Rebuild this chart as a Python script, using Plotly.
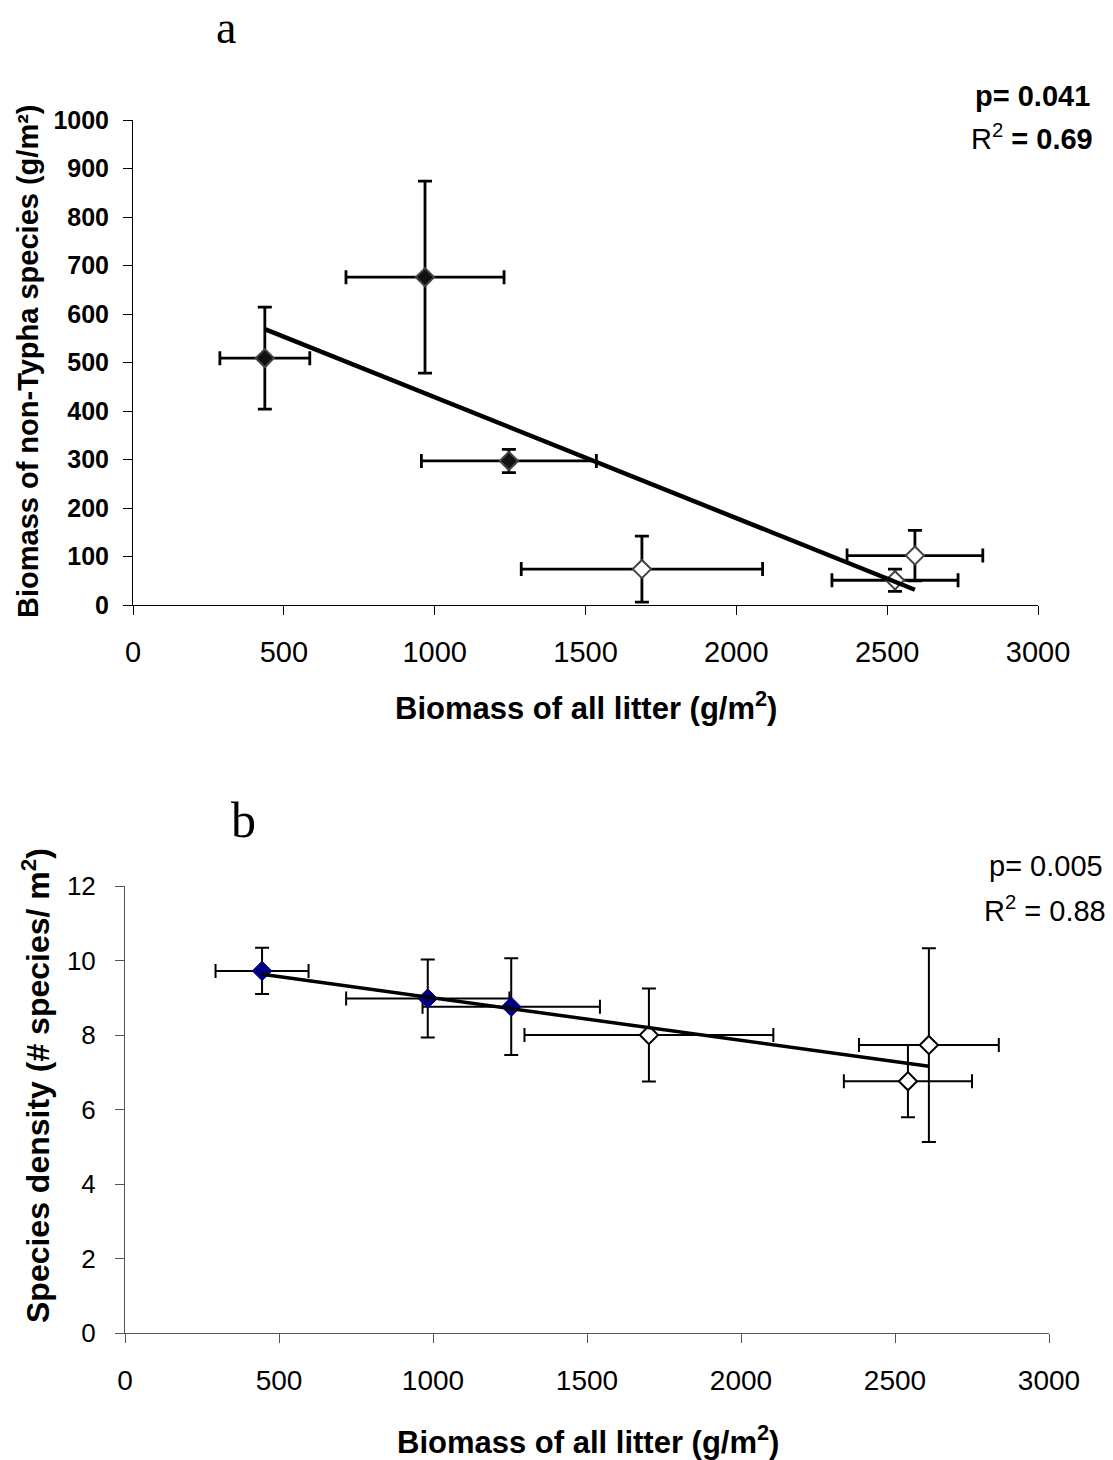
import numpy as np
import plotly.graph_objects as go

W, H = 1113, 1460

# ---- Panel a data ----
a_x_filled = [437, 968, 1246]
a_y_filled = [509, 676, 297]
a_xerr_filled = [149, 262, 290]
a_yerr_filled = [105, 198, 24]

a_x_open = [1687, 2592, 2526]
a_y_open = [74, 102, 51]
a_xerr_open = [400, 225, 209]
a_yerr_open = [68, 52, 23]

# ---- Panel b data ----
b_x_filled = [445, 983, 1254]
b_y_filled = [9.72, 8.98, 8.76]
b_xerr_filled = [151, 265, 288]
b_yerr_filled = [0.62, 1.05, 1.30]

b_x_open = [1701, 2610, 2542]
b_y_open = [8.0, 7.73, 6.76]
b_xerr_open = [404, 227, 208]
b_yerr_open = [1.25, 2.6, 0.97]

x_ticks = [0, 500, 1000, 1500, 2000, 2500, 3000]
a_y_ticks = [0, 100, 200, 300, 400, 500, 600, 700, 800, 900, 1000]
b_y_ticks = [0, 2, 4, 6, 8, 10, 12]

def px(x):
    return x / W

def py(y):
    return 1 - y / H

FONT = "Liberation Sans, Arial, sans-serif"
SERIF = "Liberation Serif, Times New Roman, serif"

fig = go.Figure()

# Panel a points
fig.add_trace(go.Scatter(
    x=a_x_filled, y=a_y_filled, mode="markers", xaxis="x", yaxis="y",
    marker=dict(symbol="diamond", size=14, color="#111111", line=dict(color="#444444", width=2)),
    error_x=dict(type="data", array=a_xerr_filled, color="black", thickness=2.8, width=7),
    error_y=dict(type="data", array=a_yerr_filled, color="black", thickness=2.8, width=7),
    showlegend=False))
fig.add_trace(go.Scatter(
    x=a_x_open, y=a_y_open, mode="markers", xaxis="x", yaxis="y",
    marker=dict(symbol="diamond", size=14, color="white", line=dict(color="#444444", width=2)),
    error_x=dict(type="data", array=a_xerr_open, color="black", thickness=2.8, width=7),
    error_y=dict(type="data", array=a_yerr_open, color="black", thickness=2.8, width=7),
    showlegend=False))

# Panel a trend line (least squares)
ax_all = np.array(a_x_filled + a_x_open, dtype=float)
ay_all = np.array(a_y_filled + a_y_open, dtype=float)
sa, ia = np.polyfit(ax_all, ay_all, 1)
ta_x = [ax_all.min(), ax_all.max()]
fig.add_trace(go.Scatter(
    x=ta_x, y=[sa * v + ia for v in ta_x], mode="lines", xaxis="x", yaxis="y",
    line=dict(color="black", width=4.5), showlegend=False))

# Panel b points
fig.add_trace(go.Scatter(
    x=b_x_filled, y=b_y_filled, mode="markers", xaxis="x2", yaxis="y2",
    marker=dict(symbol="diamond", size=15, color="#000080", line=dict(color="#000080", width=1)),
    error_x=dict(type="data", array=b_xerr_filled, color="black", thickness=2, width=7),
    error_y=dict(type="data", array=b_yerr_filled, color="black", thickness=2, width=7),
    showlegend=False))
fig.add_trace(go.Scatter(
    x=b_x_open, y=b_y_open, mode="markers", xaxis="x2", yaxis="y2",
    marker=dict(symbol="diamond", size=14, color="white", line=dict(color="black", width=2)),
    error_x=dict(type="data", array=b_xerr_open, color="black", thickness=2, width=7),
    error_y=dict(type="data", array=b_yerr_open, color="black", thickness=2, width=7),
    showlegend=False))

bx_all = np.array(b_x_filled + b_x_open, dtype=float)
by_all = np.array(b_y_filled + b_y_open, dtype=float)
sb, ib = np.polyfit(bx_all, by_all, 1)
tb_x = [bx_all.min(), bx_all.max()]
fig.add_trace(go.Scatter(
    x=tb_x, y=[sb * v + ib for v in tb_x], mode="lines", xaxis="x2", yaxis="y2",
    line=dict(color="black", width=3.5), showlegend=False))

axis_common = dict(showgrid=False, zeroline=False, showline=True, linecolor="black",
                   linewidth=1, ticks="outside", tickcolor="black", ticklen=9, tickwidth=1,
                   automargin=False)

fig.update_layout(
    template="none",
    width=W, height=H, margin=dict(l=0, r=0, t=0, b=0, autoexpand=False),
    paper_bgcolor="white", plot_bgcolor="white",
    font=dict(family=FONT, color="black"),
    xaxis=dict(domain=[px(133), px(1038)], range=[0, 3000], tickvals=x_ticks,
               anchor="y", ticklabelstandoff=12,
               tickfont=dict(size=29, family=FONT), **axis_common),
    yaxis=dict(domain=[py(605), py(120)], range=[0, 1000], tickvals=a_y_ticks,
               anchor="x", ticklabelstandoff=9,
               tickfont=dict(size=25, family=FONT, weight="bold"), **axis_common),
    xaxis2=dict(domain=[px(125), px(1049)], range=[0, 3000], tickvals=x_ticks,
                anchor="y2", ticklabelstandoff=13,
                tickfont=dict(size=28, family=FONT), **axis_common),
    yaxis2=dict(domain=[py(1333), py(886)], range=[0, 12], tickvals=b_y_ticks,
                anchor="x2", ticklabelstandoff=14,
                tickfont=dict(size=26, family=FONT), **axis_common),
)
fig.layout.xaxis2.linecolor = "#555555"
fig.layout.yaxis2.linecolor = "#555555"
fig.layout.yaxis2.tickcolor = "#555555"
fig.layout.xaxis2.tickcolor = "#555555"

annots = [
    dict(x=px(226), y=1.0, text="a", yanchor="top", font=dict(family=SERIF, size=46)),
    dict(x=px(243), y=py(820), text="b", font=dict(family=SERIF, size=50)),
    dict(x=px(586), y=py(706), text="<b>Biomass of all litter (g/m<sup>2</sup>)</b>", font=dict(size=31)),
    dict(x=px(588), y=py(1440), text="<b>Biomass of all litter (g/m<sup>2</sup>)</b>", font=dict(size=31)),
    dict(x=px(28), y=py(362), text="<b>Biomass of non-Typha species (g/m²)</b>", textangle=-90, font=dict(size=29)),
    dict(x=px(36), y=py(1086), text="<b>Species density (# species/ m<sup>2</sup>)</b>", textangle=-90, font=dict(size=32)),
    dict(x=px(1092), y=py(96), text="<b>p= 0.041</b>", xanchor="right", font=dict(size=29)),
    dict(x=px(1095), y=py(137), text="R<sup>2</sup> <b>= 0.69</b>", xanchor="right", font=dict(size=29)),
    dict(x=px(1105), y=py(866), text="p= 0.005", xanchor="right", font=dict(size=29)),
    dict(x=px(1108), y=py(909), text="R<sup>2</sup> = 0.88", xanchor="right", font=dict(size=29)),
]
for a in annots:
    a.setdefault("xanchor", "center")
    a.setdefault("yanchor", "middle")
    fig.add_annotation(xref="paper", yref="paper", showarrow=False, **a)

fig.write_html("out.html")
